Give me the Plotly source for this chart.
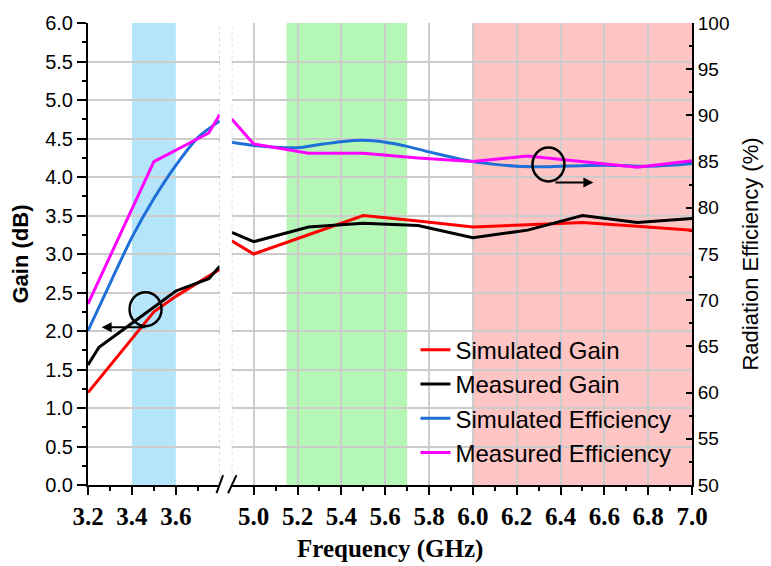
import plotly.graph_objects as go

# ---------------- data ----------------
# lower band segment (3.2 - 3.8 GHz)
f_low = [3.2, 3.3, 3.4, 3.5, 3.6, 3.7, 3.8]
sim_gain_low = [1.2, 1.55, 1.9, 2.25, 2.45, 2.62, 2.8]
f_meas_gain_low = [3.2, 3.25, 3.4, 3.5, 3.6, 3.75, 3.8]
meas_gain_low = [1.56, 1.79, 2.1, 2.31, 2.52, 2.68, 2.84]
sim_eff_low = [66.7, 71.8, 76.8, 81.0, 84.6, 87.6, 89.4]
f_meas_eff_low = [3.2, 3.5, 3.75, 3.8]
meas_eff_low = [69.6, 85.0, 88.1, 90.1]

# upper band segment (4.9 - 7.0 GHz)
f_high = [4.9, 5.0, 5.25, 5.5, 5.75, 6.0, 6.25, 6.5, 6.75, 7.0]
sim_gain_high = [3.17, 3.0, 3.25, 3.5, 3.43, 3.35, 3.38, 3.41, 3.36, 3.31]
meas_gain_high = [3.28, 3.16, 3.35, 3.40, 3.37, 3.21, 3.31, 3.50, 3.41, 3.46]
meas_eff_high = [89.6, 86.9, 85.9, 85.9, 85.4, 85.0, 85.6, 85.0, 84.4, 85.1]
f_sim_eff_high = [4.9, 5.0, 5.1, 5.2, 5.3, 5.4, 5.5, 5.6, 5.7, 5.8, 5.9,
                  6.0, 6.1, 6.2, 6.3, 6.4, 6.5, 6.6, 6.7, 6.8, 6.9, 7.0]
sim_eff_high = [87.1, 86.75, 86.55, 86.5, 86.85, 87.15, 87.3, 87.1, 86.65, 86.05, 85.5,
                85.0, 84.7, 84.5, 84.45, 84.5, 84.55, 84.6, 84.55, 84.5, 84.6, 84.8]

# highlighted bands (GHz)
band_blue = [3.4, 3.6]
band_green = [5.15, 5.7]
band_red = [6.0, 7.0]

names = ["Simulated Gain", "Measured Gain", "Simulated Efficiency", "Measured Efficiency"]
colors = ["#ff0000", "#000000", "#1f6fd8", "#ff00ff"]

x_low_ticks = [3.2, 3.4, 3.6]
x_low_minor = [3.3, 3.5, 3.7]
x_high_ticks = [5.0, 5.2, 5.4, 5.6, 5.8, 6.0, 6.2, 6.4, 6.6, 6.8, 7.0]
x_high_minor = [5.1, 5.3, 5.5, 5.7, 5.9, 6.1, 6.3, 6.5, 6.7, 6.9]

# ---------------- figure ----------------
fig = go.Figure()
LW = 3

def add(x, y, i, xa, ya, show):
    fig.add_trace(go.Scatter(
        x=x, y=y, mode="lines", name=names[i], legendgroup=names[i],
        showlegend=show, xaxis=xa, yaxis=ya,
        line=dict(color=colors[i], width=LW,
                  shape="spline" if i == 2 else "linear", smoothing=0.8)))

add(f_low, sim_gain_low, 0, "x", "y", False)
add(f_meas_gain_low, meas_gain_low, 1, "x", "y", False)
add(f_low, sim_eff_low, 2, "x", "y2", False)
add(f_meas_eff_low, meas_eff_low, 3, "x", "y2", False)
add(f_high, sim_gain_high, 0, "x2", "y", True)
add(f_high, meas_gain_high, 1, "x2", "y", True)
add(f_sim_eff_high, sim_eff_high, 2, "x2", "y2", True)
add(f_high, meas_eff_high, 3, "x2", "y2", True)

L, R, T, B = 88, 693, 18, 485
W = R - L
H = B - T
x1_end = (220 - L) / W
x2_start = (232 - L) / W

def px(xp):
    return (xp - L) / W

def py(yp):
    return (B - yp) / H

sans = "Arial, Liberation Sans, sans-serif"
serif = "Times New Roman, Liberation Serif, serif"
grid = "#cccccc"

xcommon = dict(showline=True, linecolor="black", linewidth=2,
               ticks="outside", ticklen=8, tickwidth=2, tickcolor="black",
               tickfont=dict(family=serif, size=25, color="black", weight="bold"),
               tickformat=".1f", zeroline=False)

fig.update_layout(
    width=771, height=566,
    margin=dict(l=L, r=771 - R, t=T, b=566 - B),
    paper_bgcolor="white", plot_bgcolor="white",
    xaxis=dict(domain=[0, x1_end], range=[3.2, 3.8], anchor="y",
               tickmode="array", tickvals=x_low_ticks, showgrid=False,
               minor=dict(tickmode="array", tickvals=x_low_minor, ticks="outside",
                          ticklen=4, tickwidth=2, tickcolor="black", showgrid=False),
               **xcommon),
    xaxis2=dict(domain=[x2_start, 1], range=[4.9, 7.0], anchor="y",
                tickmode="array", tickvals=x_high_ticks, showgrid=True,
                gridcolor=grid, gridwidth=1.5,
                minor=dict(tickmode="array", tickvals=x_high_minor, ticks="outside",
                           ticklen=4, tickwidth=2, tickcolor="black", showgrid=False),
                **xcommon),
    yaxis=dict(range=[0, 6], anchor="x", side="left", dtick=0.5, tick0=0,
               tickformat=".1f", showline=True, linecolor="black", linewidth=2,
               ticks="outside", ticklen=9, tickwidth=2, tickcolor="black",
               showgrid=True, gridcolor=grid, gridwidth=1.5, zeroline=False,
               minor=dict(dtick=0.25, ticks="outside", ticklen=4, tickwidth=2,
                          tickcolor="black", showgrid=False),
               tickfont=dict(family=sans, size=20, color="black"),
               title=dict(text="Gain (dB)", standoff=10,
                          font=dict(family=sans, size=22, color="black", weight="bold"))),
    yaxis2=dict(range=[50, 100], overlaying="y", anchor="x2", side="right",
                dtick=5, tick0=50, showline=True, linecolor="black", linewidth=2,
                ticks="inside", ticklen=6, tickwidth=2, tickcolor="black",
                showgrid=False, zeroline=False,
                minor=dict(dtick=2.5, ticks="inside", ticklen=3, tickwidth=2,
                           tickcolor="black", showgrid=False),
                tickfont=dict(family=sans, size=19, color="black"),
                title=dict(text="Radiation Efficiency (%)", standoff=14,
                           font=dict(family=sans, size=22, color="black"))),
    legend=dict(x=px(416), y=py(326), xanchor="left", yanchor="top",
                bgcolor="rgba(0,0,0,0)", borderwidth=0, tracegroupgap=0,
                font=dict(family=sans, size=24, color="black")),
    showlegend=True,
)

# x-axis title as annotation (spans both segments)
fig.add_annotation(text="Frequency (GHz)", xref="paper", yref="paper",
                   x=0.5, y=py(550), xanchor="center", yanchor="middle",
                   showarrow=False,
                   font=dict(family=serif, size=25, color="black", weight="bold"))

# highlighted bands
fig.add_shape(type="rect", xref="x", yref="y domain", x0=band_blue[0], x1=band_blue[1],
              y0=0, y1=1, fillcolor="#b5e5fa", line=dict(width=0), layer="below")
fig.add_shape(type="rect", xref="x2", yref="y domain", x0=band_green[0], x1=band_green[1],
              y0=0, y1=1, fillcolor="#b5f8b5", line=dict(width=0), layer="below")
fig.add_shape(type="rect", xref="x2", yref="y domain", x0=band_red[0], x1=band_red[1],
              y0=0, y1=1, fillcolor="#ffc4c4", line=dict(width=0), layer="below")

# dotted break-edge lines
fig.add_shape(type="line", xref="x", yref="y domain", x0=3.8, x1=3.8, y0=0, y1=1,
              line=dict(color="#bbbbbb", width=1, dash="dot"))
fig.add_shape(type="line", xref="x2", yref="y domain", x0=4.9, x1=4.9, y0=0, y1=1,
              line=dict(color="#bbbbbb", width=1, dash="dot"))

# axis break marks "//"
for (xa, ya, xb, yb) in [(216.7, 493.3, 223.3, 475), (228.3, 493.3, 236.7, 475)]:
    fig.add_shape(type="line", xref="paper", yref="paper",
                  x0=px(xa), y0=py(ya), x1=px(xb), y1=py(yb),
                  line=dict(color="black", width=2))

# circles + arrows indicating axes
fig.add_shape(type="circle", xref="x", yref="y", xsizemode="pixel", ysizemode="pixel",
              xanchor=3.462, yanchor=2.283, x0=-16, x1=16, y0=-17, y1=17,
              line=dict(color="black", width=2.5))
fig.add_annotation(x=3.262, y=2.05, ax=3.467, ay=2.05, xref="x", yref="y",
                   axref="x", ayref="y", text="", showarrow=True,
                   arrowhead=2, arrowsize=1, arrowwidth=2, arrowcolor="black")
fig.add_shape(type="circle", xref="x2", yref="y", xsizemode="pixel", ysizemode="pixel",
              xanchor=6.345, yanchor=4.163, x0=-16, x1=16, y0=-17, y1=17,
              line=dict(color="black", width=2.5))
fig.add_annotation(x=6.55, y=3.93, ax=6.37, ay=3.93, xref="x2", yref="y",
                   axref="x2", ayref="y", text="", showarrow=True,
                   arrowhead=2, arrowsize=1, arrowwidth=2, arrowcolor="black")

fig.write_html("out.html")
